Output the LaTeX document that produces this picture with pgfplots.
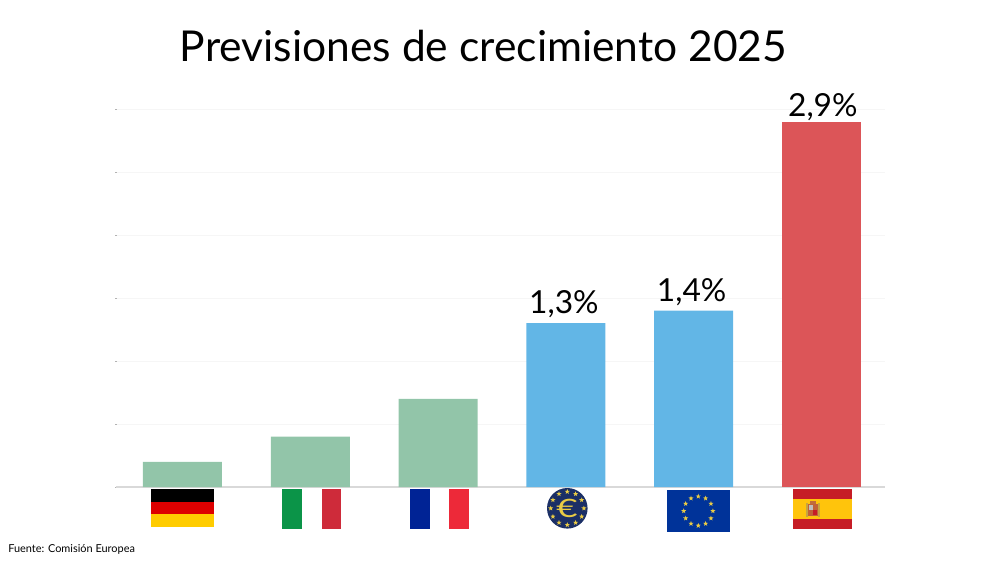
\documentclass[border=0pt]{standalone}
\usepackage{fontspec}
\setmainfont{Lato}
\usepackage{graphicx}
\usepackage{pgfplots}
\pgfplotsset{compat=1.18}
\usetikzlibrary{shapes.geometric}

\definecolor{barverde}{HTML}{92C5A9}
\definecolor{barazul}{HTML}{62B6E6}
\definecolor{barrojo}{HTML}{DC5558}
\definecolor{rejilla}{HTML}{F6F6F6}
\definecolor{eje}{HTML}{D9D9D9}
\definecolor{bce}{HTML}{1B2F66}
\definecolor{oro}{HTML}{E9CB45}
\definecolor{ue}{HTML}{003399}
\definecolor{deRojo}{HTML}{DD0000}
\definecolor{deOro}{HTML}{FFCC00}
\definecolor{itVerde}{HTML}{0B9448}
\definecolor{itRojo}{HTML}{CE2B3A}
\definecolor{frAzul}{HTML}{002395}
\definecolor{frRojo}{HTML}{ED2939}
\definecolor{esRojo}{HTML}{C61D26}
\definecolor{esOro}{HTML}{FFC40C}

\begin{document}
\begin{tikzpicture}
	% page = 1000x562 px, 1 px = 0.75pt
	\path[use as bounding box] (0,0) rectangle (750pt,421.5pt);

	\begin{axis}[
		at={(87pt,56.25pt)}, anchor=south west,
		scale only axis,
		width=576.75pt, height=283.5pt,
		xmin=-0.52, xmax=5.497,
		ymin=0, ymax=3,
		axis x line=bottom,
		axis y line=left,
		x axis line style={-, draw=eje, line width=1.4pt},
		y axis line style={draw=none},
		xtick=\empty,
		ytick={0,0.5,1,1.5,2,2.5,3},
		yticklabels={},
		tick style={draw=gray!60, line width=0.5pt},
		major tick length=1.5pt,
		ymajorgrids,
		major grid style={draw=rejilla, line width=0.75pt},
		ybar, bar width=59.25pt, bar shift=0pt,
		clip=false,
		nodes near coords style={
			font=\fontsize{23.8}{23.8}\selectfont, text=black, inner sep=0pt, anchor=south,
			/pgf/number format/fixed,
			/pgf/number format/fixed zerofill,
			/pgf/number format/precision=1,
			/pgf/number format/use comma,
			/pgf/number format/assume math mode=true},
	]
		\addplot[fill=barverde, draw=none] coordinates {(0,0.2) (1,0.4) (2,0.7)};
		\addplot[fill=barazul, draw=none,
			nodes near coords={\pgfmathprintnumber{\pgfplotspointmeta}\%},
			every node near coord/.append style={yshift=3.5pt, xshift=-1.5pt}] coordinates {(3,1.3) (4,1.4)};
		\addplot[fill=barrojo, draw=none,
			nodes near coords={\pgfmathprintnumber{\pgfplotspointmeta}\%},
			every node near coord/.append style={yshift=0.5pt, xshift=1pt}] coordinates {(5,2.9)};
	\end{axis}

	% text and flags in pixel coordinates of the page
	\begin{scope}[shift={(0,421.5pt)}, x=0.75pt, y=-0.75pt]
		\node[anchor=base, inner sep=0pt, font=\fontsize{31.9}{31.9}\selectfont] at (483.5,62) {Previsiones de crecimiento 2025};
		\node[anchor=base west, inner sep=0pt, font=\fontsize{8.2}{8.2}\selectfont] at (8,552) {Fuente: Comisión Europea};

		% Alemania
		\fill[black] (151.3,489.3) rectangle (214.3,501.7);
		\fill[deRojo] (151.3,501.7) rectangle (214.3,514.3);
		\fill[deOro] (151.3,514.3) rectangle (214.3,526.7);

		% Italia
		\fill[itVerde] (282.3,489.3) rectangle (302,529.3);
		\fill[itRojo] (321.7,489.3) rectangle (341.3,529.3);

		% Francia
		\fill[frAzul] (410,489.3) rectangle (429.7,529.3);
		\fill[frRojo] (449.3,489.3) rectangle (469.3,529.3);

		% BCE
		\fill[bce] (567.3,508.3) circle (20.3);
		\foreach \a in {0,30,...,330}
			\node[star, star points=5, star point ratio=2.4, fill=oro, inner sep=0pt, minimum size=4pt]
				at ({567.3+16.6*cos(\a)},{508.3+16.6*sin(\a)}) {};
		\node[text=oro, inner sep=0pt, font=\fontsize{19}{19}\selectfont] at (567,508) {\scalebox{1.45}[1]{€}};

		% UE
		\fill[ue] (666.7,490.3) rectangle (730,532);
		\foreach \a in {0,30,...,330}
			\node[star, star points=5, star point ratio=2.4, fill=oro, inner sep=0pt, minimum size=4pt]
				at ({698.3+14.6*cos(\a)},{511+14.6*sin(\a)}) {};

		% España
		\fill[esRojo] (793,489.3) rectangle (852.3,529.3);
		\fill[esOro] (793,499) rectangle (852.3,519.3);
		\fill[gray!45!esOro] (805.5,503) rectangle (807.5,516.5);
		\fill[gray!45!esOro] (818,503) rectangle (820,516.5);
		\fill[brown!70!esRojo] (808,503.5) rectangle (817.5,516);
		\fill[gray!50!white] (809,504.5) rectangle (813,510);
		\fill[esRojo] (813,510) rectangle (816.5,515);
		\fill[brown!80!esRojo] (809.5,500.5) rectangle (816,503.5);
	\end{scope}
\end{tikzpicture}
\end{document}
